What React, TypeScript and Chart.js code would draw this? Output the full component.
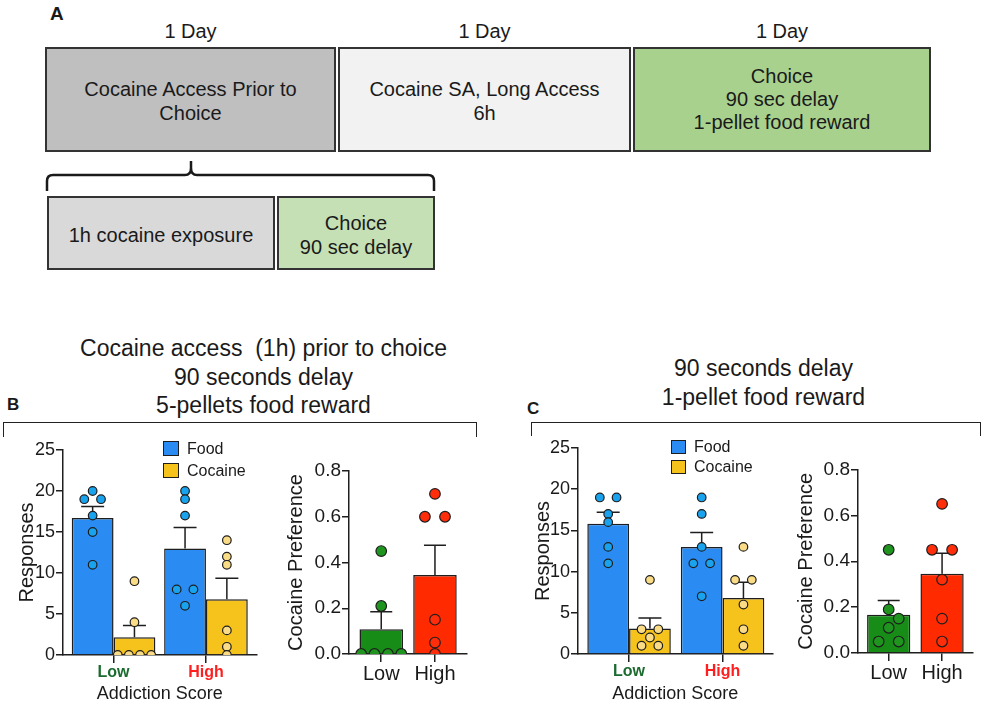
import React, { useEffect, useRef } from 'react';
import { Chart, registerables } from 'chart.js';

Chart.register(...registerables);

const FONT = '"Liberation Sans", Arial, Helvetica, sans-serif';

// ---------------- data ----------------
const categories = ['Low', 'High'];
const responseTicks = [0, 5, 10, 15, 20, 25];
const preferenceTicks = [0, 0.2, 0.4, 0.6, 0.8];

// Panel B: cocaine access (1h) prior to choice, 90 s delay, 5-pellet reward
const bFoodMean = [16.7, 13.0];
const bFoodSem = [1.4, 2.55];
const bCocMean = [2.15, 6.8];
const bCocSem = [1.45, 2.55];
const bFoodLow = [20, 19, 19, 17, 15, 11];
const bFoodHigh = [20, 19, 17, 8, 8, 6];
const bCocLow = [9, 4, 0, 0, 0, 0];
const bCocHigh = [14, 12, 11, 3, 1, 0];
const bPrefMean = [0.108, 0.345];
const bPrefSem = [0.077, 0.13];
const bPrefLow = [0.45, 0.21, 0, 0, 0, 0];
const bPrefHigh = [0.7, 0.6, 0.6, 0.15, 0.05, 0];

// Panel C: 90 s delay, 1-pellet reward
const cFoodMean = [15.8, 13.0];
const cFoodSem = [1.4, 1.76];
const cCocMean = [3.1, 6.8];
const cCocSem = [1.27, 1.9];
const cFoodLow = [19, 19, 17, 16, 13, 11];
const cFoodHigh = [19, 17, 13, 11, 11, 7];
const cCocLow = [9, 3, 3, 2, 1, 1];
const cCocHigh = [13, 9, 9, 6, 3, 1];
const cPrefMean = [0.167, 0.345];
const cPrefSem = [0.062, 0.09];
const cPrefLow = [0.45, 0.19, 0.15, 0.11, 0.05, 0.05];
const cPrefHigh = [0.65, 0.45, 0.45, 0.32, 0.15, 0.05];

// ---------------- styles ----------------
const TXT = '#1a1a1a';
const EDGE = '#1e1e1e';
const FOOD_BAR = '#2a8cf2';
const FOOD_PT = '#19a3ef';
const COC_BAR = '#f6c21c';
const COC_PT = '#fadb86';
const LOW_BAR = '#178c17';
const LOW_PT = '#1f951f';
const HIGH_BAR = '#ff2a00';
const HIGH_PT = '#ff2d0a';
const LOW_TXT = '#1b6b2f';
const HIGH_TXT = '#ff1f1f';

type Geo = {
  left: number; top: number; width: number; height: number;
  yAxisW: number; padTop: number; xAxisH: number;
  xMin: number; xMax: number; catPct: number; yTitlePad: number;
};

// beeswarm placement of raw points around a group centre (GraphPad-like)
function swarm(values: number[], center: number, pxX: number, pxY: number, r: number) {
  const sorted = [...values].sort((a, b) => b - a);
  const placed: { x: number; y: number }[] = [];
  let i = 0;
  while (i < sorted.length) {
    let j = i;
    while (j < sorted.length && sorted[j] === sorted[i]) j++;
    const n = j - i;
    const v = sorted[i];
    if (n > 1) {
      const gap = 2 * r * (1 + 1 / (n - 1));
      for (let k = 0; k < n; k++) placed.push({ x: center + ((k - (n - 1) / 2) * gap) / pxX, y: v });
    } else {
      const cands = [0, 2 * r, -2 * r];
      let best = 0;
      for (const c of cands) {
        const ok = placed.every(
          (p) => Math.hypot((p.x - center) * pxX - c, (p.y - v) * pxY) >= 1.8 * r
        );
        if (ok) { best = c; break; }
      }
      placed.push({ x: center + best / pxX, y: v });
    }
    i = j;
  }
  return placed;
}

const errorBarPlugin = {
  id: 'errorBars',
  afterDatasetDraw(chart: any, args: any) {
    const ds = chart.data.datasets[args.index];
    if (!ds.errors) return;
    const yScale = chart.scales.y;
    const ctx = chart.ctx;
    const cap = ds.capHalf || 11;
    ctx.save();
    ctx.strokeStyle = EDGE;
    ctx.lineWidth = 1.5;
    args.meta.data.forEach((bar: any, i: number) => {
      const v = ds.data[i].y;
      const e = ds.errors[i];
      const y0 = yScale.getPixelForValue(v);
      const y1 = yScale.getPixelForValue(v + e);
      ctx.beginPath();
      ctx.moveTo(bar.x, y0);
      ctx.lineTo(bar.x, y1);
      ctx.moveTo(bar.x - cap, y1);
      ctx.lineTo(bar.x + cap, y1);
      ctx.stroke();
    });
    ctx.restore();
  },
};

function axisBase(g: Geo) {
  return {
    grid: { display: true, drawOnChartArea: false, drawTicks: true, color: EDGE, lineWidth: 1.5, offset: false },
    border: { display: true, color: EDGE, width: 1.5 },
  };
}

function xScale(g: Geo, tickFont: any, tickColor: any, title?: string) {
  const base = axisBase(g);
  return {
    type: 'linear',
    min: g.xMin,
    max: g.xMax,
    offset: false,
    afterBuildTicks: (s: any) => { s.ticks = categories.map((_, i) => ({ value: i })); },
    afterFit: (s: any) => { s.height = g.xAxisH; },
    grid: { ...base.grid, tickLength: 8 },
    border: base.border,
    ticks: {
      callback: (v: any) => categories[v] ?? '',
      color: tickColor,
      font: tickFont,
      padding: 0,
      maxRotation: 0,
      autoSkip: false,
    },
    title: title
      ? { display: true, text: title, color: TXT, font: { family: FONT, size: 18 }, padding: { top: 0, bottom: 0 } }
      : { display: false },
  };
}

function yScale(g: Geo, ticks: number[], title: string, tickSize: number, fmt: (v: number) => string) {
  const base = axisBase(g);
  return {
    min: ticks[0],
    max: ticks[ticks.length - 1],
    afterBuildTicks: (s: any) => { s.ticks = ticks.map((v) => ({ value: v })); },
    afterFit: (s: any) => { s.width = g.yAxisW; },
    grid: { ...base.grid, tickLength: 7 },
    border: base.border,
    ticks: { color: TXT, font: { family: FONT, size: tickSize, lineHeight: 1 }, padding: 1, callback: (v: any) => fmt(v) },
    title: { display: true, text: title, color: TXT, font: { family: FONT, size: 20 }, padding: { top: g.yTitlePad, bottom: 0 } },
  };
}

function pointDs(pts: { x: number; y: number }[], fill: string, r: number) {
  return {
    type: 'scatter',
    data: pts,
    pointRadius: r,
    pointHoverRadius: r,
    pointBackgroundColor: fill,
    pointBorderColor: EDGE,
    pointBorderWidth: 1.2,
    showLine: false,
    order: 1,
  };
}

function responsesConfig(
  g: Geo, foodMean: number[], foodSem: number[], cocMean: number[], cocSem: number[],
  foodPts: number[][], cocPts: number[][]
) {
  const areaW = g.width - g.yAxisW;
  const areaH = g.height - g.padTop - g.xAxisH;
  const pxX = areaW / (g.xMax - g.xMin);
  const pxY = areaH / (responseTicks[responseTicks.length - 1] - responseTicks[0]);
  const r = 4.3;
  const shift = g.catPct / 4;
  const foodSwarm = foodPts.flatMap((vals, i) => swarm(vals, i - shift, pxX, pxY, r));
  const cocSwarm = cocPts.flatMap((vals, i) => swarm(vals, i + shift, pxX, pxY, r));
  return {
    type: 'bar',
    data: {
      datasets: [
        pointDs(foodSwarm, FOOD_PT, r),
        pointDs(cocSwarm, COC_PT, r),
        {
          label: 'Food', data: foodMean.map((y, i) => ({ x: i, y })), errors: foodSem, capHalf: 11.5,
          backgroundColor: FOOD_BAR, borderColor: EDGE, borderWidth: 1.5,
          categoryPercentage: g.catPct, barPercentage: 1, order: 2,
        },
        {
          label: 'Cocaine', data: cocMean.map((y, i) => ({ x: i, y })), errors: cocSem, capHalf: 11.5,
          backgroundColor: COC_BAR, borderColor: EDGE, borderWidth: 1.5,
          categoryPercentage: g.catPct, barPercentage: 1, order: 2,
        },
      ],
    },
    options: {
      responsive: false,
      animation: false,
      layout: { padding: { top: g.padTop, left: 0, right: 0, bottom: 0 } },
      plugins: { legend: { display: false }, tooltip: { enabled: false } },
      scales: {
        x: xScale(
          g,
          { family: FONT, size: 16, weight: 'bold' },
          (c: any) => (c.index === 0 ? LOW_TXT : HIGH_TXT),
          'Addiction Score'
        ),
        y: yScale(g, responseTicks, 'Responses', 18, (v) => String(v)),
      },
    },
    plugins: [errorBarPlugin],
  };
}

function preferenceConfig(g: Geo, mean: number[], sem: number[], lowPts: number[], highPts: number[]) {
  const areaW = g.width - g.yAxisW;
  const areaH = g.height - g.padTop - g.xAxisH;
  const pxX = areaW / (g.xMax - g.xMin);
  const pxY = areaH / (preferenceTicks[preferenceTicks.length - 1] - preferenceTicks[0]);
  const r = 5.3;
  return {
    type: 'bar',
    data: {
      datasets: [
        pointDs(swarm(lowPts, 0, pxX, pxY, r), LOW_PT, r),
        pointDs(swarm(highPts, 1, pxX, pxY, r), HIGH_PT, r),
        {
          label: 'Cocaine Preference', data: mean.map((y, i) => ({ x: i, y })), errors: sem, capHalf: 11,
          backgroundColor: [LOW_BAR, HIGH_BAR], borderColor: EDGE, borderWidth: 1.5,
          categoryPercentage: g.catPct, barPercentage: 1, order: 2,
        },
      ],
    },
    options: {
      responsive: false,
      animation: false,
      layout: { padding: { top: g.padTop, left: 0, right: 0, bottom: 0 } },
      plugins: { legend: { display: false }, tooltip: { enabled: false } },
      scales: {
        x: xScale(g, { family: FONT, size: 20 }, TXT),
        y: yScale(g, preferenceTicks, 'Cocaine Preference', 19, (v) => Number(v).toFixed(1)),
      },
    },
    plugins: [errorBarPlugin],
  };
}

const geoBResp: Geo = { left: 0, top: 440, width: 262, height: 265, yAxisW: 63, padTop: 10, xAxisH: 50, xMin: -0.547, xMax: 1.547, catPct: 0.905, yTitlePad: 15 };
const geoBPref: Geo = { left: 270, top: 460, width: 203, height: 245, yAxisW: 79, padTop: 11, xAxisH: 51, xMin: -0.6, xMax: 1.587, catPct: 0.81, yTitlePad: 14.7 };
const geoCResp: Geo = { left: 520, top: 438, width: 258, height: 267, yAxisW: 58, padTop: 10, xAxisH: 51, xMin: -0.546, xMax: 1.534, catPct: 0.893, yTitlePad: 11.3 };
const geoCPref: Geo = { left: 780, top: 459, width: 199, height: 246, yAxisW: 78, padTop: 10, xAxisH: 52, xMin: -0.575, xMax: 1.57, catPct: 0.81, yTitlePad: 14.7 };

function ChartCanvas({ geo, make }: { geo: Geo; make: () => any }) {
  const ref = useRef<HTMLCanvasElement>(null);
  useEffect(() => {
    const chart = new Chart(ref.current as HTMLCanvasElement, make());
    return () => chart.destroy();
  }, []);
  return (
    <canvas
      ref={ref}
      width={geo.width}
      height={geo.height}
      style={{ position: 'absolute', left: geo.left, top: geo.top, width: geo.width, height: geo.height }}
    />
  );
}

const abs = (s: React.CSSProperties): React.CSSProperties => ({ position: 'absolute', ...s });

function Box({ left, top, width, height, bg, lines, lh, padTop }: any) {
  return (
    <div
      style={abs({
        left, top, width, height, boxSizing: 'border-box', border: '2px solid #333', background: bg,
        display: 'flex', flexDirection: 'column', alignItems: 'center', justifyContent: 'center',
        textAlign: 'center', fontSize: 20, lineHeight: `${lh}px`, paddingTop: padTop || 0,
      })}
    >
      {lines.map((t: string, i: number) => (
        <div key={i}>{t}</div>
      ))}
    </div>
  );
}

function Legend({ left, top, size, gap }: { left: number; top: number; size: number; gap: number }) {
  const items = [
    { label: 'Food', color: FOOD_BAR },
    { label: 'Cocaine', color: COC_BAR },
  ];
  return (
    <>
      {items.map((it, i) => (
        <React.Fragment key={it.label}>
          <div
            style={abs({
              left, top: top + i * gap, width: size, height: size - 1, boxSizing: 'border-box',
              background: it.color, border: `1.5px solid ${EDGE}`,
            })}
          />
          <div style={abs({ left: left + size + 8, top: top + i * gap + (size - 1) / 2 - 10, fontSize: 16, lineHeight: '20px' })}>
            {it.label}
          </div>
        </React.Fragment>
      ))}
    </>
  );
}

export default function App() {
  const day = (cx: number) => (
    <div style={abs({ left: cx - 60, width: 120, top: 19, textAlign: 'center', fontSize: 20, lineHeight: '24px' })}>1 Day</div>
  );
  return (
    <div
      style={abs({
        left: 0, top: 0, width: 985, height: 705, background: '#fff', overflow: 'hidden',
        fontFamily: FONT, color: TXT,
      })}
    >
      {/* Panel A */}
      <div style={abs({ left: 50, top: 4, fontSize: 19, fontWeight: 'bold', lineHeight: '20px' })}>A</div>
      {day(190.5)}
      {day(484.5)}
      {day(782)}
      <Box left={45} top={47} width={291} height={105} bg="#bfbfbf" lh={24} padTop={3} lines={['Cocaine Access Prior to', 'Choice']} />
      <Box left={338} top={47} width={293} height={105} bg="#f2f2f2" lh={24} padTop={3} lines={['Cocaine SA, Long Access', '6h']} />
      <Box left={633} top={47} width={298} height={105} bg="#a9d18e" lh={23} lines={['Choice', '90 sec delay', '1-pellet food reward']} />
      <svg width={985} height={200} style={abs({ left: 0, top: 0 })}>
        <path
          d="M47,191 V181 Q47,175 53,175 H185 Q191,175 191,168 V161 V168 Q191,175 197,175 H428 Q434,175 434,181 V191"
          fill="none"
          stroke="#1a1a1a"
          strokeWidth={2.5}
        />
      </svg>
      <Box left={47} top={196} width={228} height={74} bg="#d9d9d9" lh={24} padTop={4} lines={['1h cocaine exposure']} />
      <Box left={277} top={196} width={158} height={74} bg="#c5e0b4" lh={24} padTop={4} lines={['Choice', '90 sec delay']} />

      {/* Panel B header */}
      <div style={abs({ left: 63.5, width: 400, top: 334, textAlign: 'center', fontSize: 23, lineHeight: '28.5px' })}>
        <div>Cocaine access&nbsp; (1h) prior to choice</div>
        <div>90 seconds delay</div>
        <div>5-pellets food reward</div>
      </div>
      <div style={abs({ left: 7, top: 395, fontSize: 17, fontWeight: 'bold', lineHeight: '20px' })}>B</div>
      <div style={abs({ left: 3, top: 422, width: 474, height: 15, boxSizing: 'border-box', borderTop: '1.5px solid #222', borderLeft: '1.5px solid #222', borderRight: '1.5px solid #222' })} />

      {/* Panel C header */}
      <div style={abs({ left: 563.5, width: 400, top: 354, textAlign: 'center', fontSize: 23, lineHeight: '28.7px' })}>
        <div>90 seconds delay</div>
        <div>1-pellet food reward</div>
      </div>
      <div style={abs({ left: 527, top: 399, fontSize: 17, fontWeight: 'bold', lineHeight: '20px' })}>C</div>
      <div style={abs({ left: 531, top: 422, width: 450, height: 14, boxSizing: 'border-box', borderTop: '1.5px solid #222', borderLeft: '1.5px solid #222', borderRight: '1.5px solid #222' })} />

      {/* Charts */}
      <ChartCanvas
        geo={geoBResp}
        make={() => responsesConfig(geoBResp, bFoodMean, bFoodSem, bCocMean, bCocSem, [bFoodLow, bFoodHigh], [bCocLow, bCocHigh])}
      />
      <ChartCanvas geo={geoBPref} make={() => preferenceConfig(geoBPref, bPrefMean, bPrefSem, bPrefLow, bPrefHigh)} />
      <ChartCanvas
        geo={geoCResp}
        make={() => responsesConfig(geoCResp, cFoodMean, cFoodSem, cCocMean, cCocSem, [cFoodLow, cFoodHigh], [cCocLow, cCocHigh])}
      />
      <ChartCanvas geo={geoCPref} make={() => preferenceConfig(geoCPref, cPrefMean, cPrefSem, cPrefLow, cPrefHigh)} />

      <Legend left={163} top={441} size={16} gap={22} />
      <Legend left={671} top={440} size={15} gap={20} />
    </div>
  );
}
